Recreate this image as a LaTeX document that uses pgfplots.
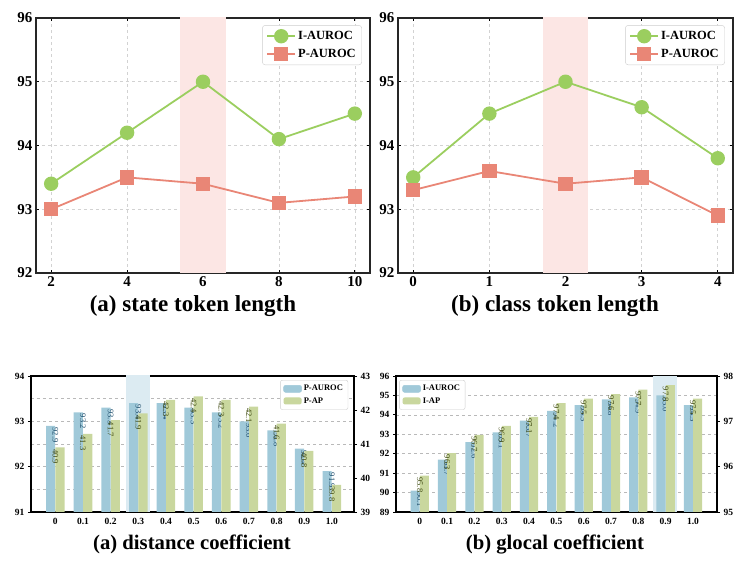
\documentclass[border=0pt]{standalone}
\usepackage{pgfplots}
\pgfplotsset{compat=1.18}
\usepackage{fontspec}
\setmainfont{Liberation Serif}
\definecolor{cgreen}{HTML}{9BCE5F}
\definecolor{cred}{HTML}{E98676}
\definecolor{pinkband}{HTML}{FCE6E4}
\definecolor{blueband}{HTML}{DCEBF2}
\definecolor{cb}{HTML}{A0C9D9}
\definecolor{cgr}{HTML}{C9D79E}
\definecolor{cbtext}{HTML}{1E4D6B}
\definecolor{cgtext}{HTML}{3F4A12}
\pgfplotsset{
  topaxis/.style={
    anchor=south west, scale only axis,
    ymin=92, ymax=96, ytick={92,93,94,95,96},
    grid=major, grid style={dashed, gray!35, line width=0.6pt},
    axis line style={line width=1.3pt, black!85},
    tick style={black, line width=0.8pt}, tick align=inside, major tick length=3pt,
    /pgf/number format/assume math mode=true,
    ticklabel style={font=\fontsize{15}{15}\selectfont\bfseries},
    legend cell align=left,
    legend style={at={(0.976,0.972)}, anchor=north east, draw=gray!40, rounded corners=3pt,
      font=\fontsize{12.5}{14}\selectfont\bfseries, row sep=4pt, inner xsep=4pt, inner ysep=4pt},
    legend image code/.code={\draw[mark repeat=2,mark phase=2,#1] plot coordinates {(0pt,0pt) (14pt,0pt) (28pt,0pt)};},
  },
  iline/.style={color=cgreen, line width=1.8pt, mark=*, mark size=6.3pt, mark options={fill=cgreen, draw=cgreen}},
  pline/.style={color=cred, line width=1.8pt, mark=square*, mark size=6.3pt, mark options={fill=cred, draw=cred}},
  botaxis/.style={
    anchor=south west, scale only axis, width=322pt, height=136pt,
    axis line style={line width=1.1pt, black},
    tick style={black, line width=0.8pt}, tick align=outside, major tick length=3pt,
    /pgf/number format/assume math mode=true,
    ticklabel style={font=\fontsize{9.5}{10}\selectfont\bfseries},
    legend cell align=left,
    legend style={draw=gray!40, rounded corners=2pt,
      font=\fontsize{8.5}{10}\selectfont\bfseries, row sep=1pt, inner xsep=3pt, inner ysep=3pt},
  },
  barlab/.style={nodes near coords={\pgfmathprintnumber[fixed,fixed zerofill,precision=1]{\pgfplotspointmeta}},
    every node near coord/.append style={rotate=-90, anchor=west, font=\fontsize{8.5}{8.5}\selectfont, inner sep=1.5pt, text=#1}},
}
\begin{document}
\begin{tikzpicture}[x=1pt,y=1pt]
\useasboundingbox (0,0) rectangle (750,569);

% ---------------- top left
\begin{axis}[topaxis, at={(36pt,296pt)}, width=334pt, height=255pt,
  xmin=1.6, xmax=10.4, xtick={2,4,6,8,10}]
\addplot[draw=none, fill=pinkband, forget plot] coordinates {(5.4,91) (5.4,97) (6.6,97) (6.6,91)};
\addplot[iline] coordinates {(2,93.4) (4,94.2) (6,95.0) (8,94.1) (10,94.5)};
\addlegendentry{I-AUROC}
\addplot[pline] coordinates {(2,93.0) (4,93.5) (6,93.4) (8,93.1) (10,93.2)};
\addlegendentry{P-AUROC}
\end{axis}

% ---------------- top right
\begin{axis}[topaxis, at={(398pt,296pt)}, width=335pt, height=255pt,
  xmin=-0.2, xmax=4.2, xtick={0,1,2,3,4}]
\addplot[draw=none, fill=pinkband, forget plot] coordinates {(1.7,91) (1.7,97) (2.3,97) (2.3,91)};
\addplot[iline] coordinates {(0,93.5) (1,94.5) (2,95.0) (3,94.6) (4,93.8)};
\addlegendentry{I-AUROC}
\addplot[pline] coordinates {(0,93.3) (1,93.6) (2,93.4) (3,93.5) (4,92.9)};
\addlegendentry{P-AUROC}
\end{axis}

\node[font=\fontsize{23}{23}\selectfont\bfseries, anchor=base] at (193,257.5) {(a) state token length};
\node[font=\fontsize{23}{23}\selectfont\bfseries, anchor=base] at (555,257.5) {(b) class token length};

% ---------------- bottom left
\begin{axis}[botaxis, at={(31pt,57pt)}, width=323pt,
  xmin=-0.88, xmax=10.8, ymin=91, ymax=94, ytick={91,92,93,94}, minor ytick={91.5,92.5,93.5},
  ymajorgrids, yminorgrids, major grid style={dashed, gray!55, line width=0.5pt}, minor grid style={dashed, gray!55, line width=0.5pt},
  xtick={0,...,10}, xticklabels={0,0.1,0.2,0.3,0.4,0.5,0.6,0.7,0.8,0.9,1.0},
  ytick pos=left, xtick pos=bottom, minor tick length=0pt, xtick style={draw=none}]
\addplot[draw=none, fill=blueband, forget plot] coordinates {(2.55,90) (2.55,95) (3.42,95) (3.42,90)};
\addplot[ybar, bar width=0.33, bar shift=-0.17, fill=cb, draw=none, barlab=cbtext] coordinates {
(0,92.9) (1,93.2) (2,93.3) (3,93.4) (4,93.4) (5,93.3) (6,93.2) (7,93.0) (8,92.8) (9,92.4) (10,91.9)};
\end{axis}
\begin{axis}[botaxis, at={(31pt,57pt)}, width=323pt,
  xmin=-0.88, xmax=10.8, ymin=39, ymax=43, ytick={39,40,41,42,43},
  axis y line*=right, axis x line=none,
  legend style={at={(0.982,0.97)}, anchor=north east}]
\addlegendimage{legend image code/.code={\fill[cb] (0pt,-3.5pt) rectangle (18pt,3.5pt);}}
\addlegendentry{P-AUROC}
\addplot[ybar, bar width=0.33, bar shift=0.17, fill=cgr, draw=none, barlab=cgtext,
  legend image code/.code={\fill[cgr] (0pt,-3.5pt) rectangle (18pt,3.5pt);}] coordinates {
(0,40.9) (1,41.3) (2,41.7) (3,41.9) (4,42.3) (5,42.4) (6,42.3) (7,42.1) (8,41.6) (9,40.8) (10,39.8)};
\addlegendentry{P-AP}
\end{axis}

% ---------------- bottom right
\begin{axis}[botaxis, at={(396pt,57pt)}, width=321pt,
  xmin=-0.87, xmax=10.88, ymin=89, ymax=96, ytick={89,90,...,96},
  ymajorgrids, major grid style={dashed, gray!55, line width=0.5pt},
  xtick={0,...,10}, xticklabels={0,0.1,0.2,0.3,0.4,0.5,0.6,0.7,0.8,0.9,1.0},
  ytick pos=left, xtick pos=bottom, xtick style={draw=none}]
\addplot[draw=none, fill=blueband, forget plot] coordinates {(8.53,88) (8.53,97) (9.4,97) (9.4,88)};
\addplot[ybar, bar width=0.33, bar shift=-0.17, fill=cb, draw=none, barlab=cbtext] coordinates {
(0,90.1) (1,91.7) (2,92.6) (3,93.1) (4,93.7) (5,94.2) (6,94.5) (7,94.8) (8,94.9) (9,95.0) (10,94.5)};
\end{axis}
\begin{axis}[botaxis, at={(396pt,57pt)}, width=321pt,
  xmin=-0.87, xmax=10.88, ymin=95, ymax=98, ytick={95,96,97,98},
  axis y line*=right, axis x line=none,
  legend style={at={(0.01,0.97)}, anchor=north west}]
\addlegendimage{legend image code/.code={\fill[cb] (0pt,-3.5pt) rectangle (18pt,3.5pt);}}
\addlegendentry{I-AUROC}
\addplot[ybar, bar width=0.33, bar shift=0.17, fill=cgr, draw=none, barlab=cgtext,
  legend image code/.code={\fill[cgr] (0pt,-3.5pt) rectangle (18pt,3.5pt);}] coordinates {
(0,95.8) (1,96.3) (2,96.7) (3,96.9) (4,97.1) (5,97.4) (6,97.5) (7,97.6) (8,97.7) (9,97.8) (10,97.5)};
\addlegendentry{I-AP}
\end{axis}

\node[font=\fontsize{20.7}{21}\selectfont\bfseries, anchor=base] at (192,19.7) {(a) distance coefficient};
\node[font=\fontsize{20.7}{21}\selectfont\bfseries, anchor=base] at (555,19.7) {(b) glocal coefficient};
\end{tikzpicture}
\end{document}
